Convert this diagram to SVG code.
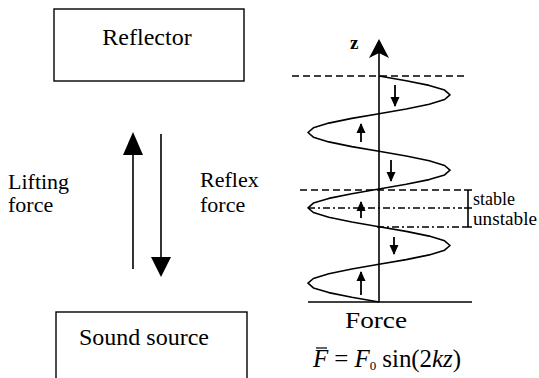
<svg xmlns="http://www.w3.org/2000/svg" width="539" height="378" viewBox="0 0 539 378">
<style>
.box{fill:#fff;stroke:#000;stroke-width:1.4}
.t{font-family:"Liberation Serif","Times New Roman",serif;fill:#000}
.ln{stroke:#000;stroke-width:1.6;fill:none}
.dash{stroke:#000;stroke-width:1.3;stroke-dasharray:7 4;fill:none}
.dd{stroke:#000;stroke-width:1.3;stroke-dasharray:7 3 2 3;fill:none}
.sa{stroke:#000;stroke-width:1.8;fill:none;marker-end:url(#sh)}
</style>
<defs>
<marker id="sh" viewBox="0 0 10 10" refX="9" refY="5" markerWidth="10" markerHeight="10" markerUnits="userSpaceOnUse" orient="auto">
<path d="M0,0.5 L10,5 L0,9.5 Z" fill="#000"/>
</marker>
</defs>
<rect width="539" height="378" fill="#fff"/>
<g id="reflector">
<rect class="box" x="54" y="9" width="190" height="72"/>
<text class="t" x="147" y="45" font-size="24" text-anchor="middle">Reflector</text>
</g>
<g id="sound-source">
<rect class="box" x="56" y="312" width="191" height="90"/>
<text class="t" x="144" y="345" font-size="24" text-anchor="middle">Sound source</text>
</g>
<g id="connectors">
<line class="ln" x1="133" y1="269" x2="133" y2="154"/>
<polygon points="123,155 143,155 133,132" fill="#000"/>
<line class="ln" x1="161" y1="134" x2="161" y2="258"/>
<polygon points="151,257 171,257 161,277" fill="#000"/>
</g>
<g id="labels">
<text class="t" x="8" y="189" font-size="22">Lifting</text>
<text class="t" x="8" y="212" font-size="22">force</text>
<text class="t" x="200" y="187" font-size="22">Reflex</text>
<text class="t" x="200" y="212" font-size="22">force</text>
</g>
<g id="force-plot">
<line class="dash" x1="292" y1="76" x2="468" y2="76"/>
<line class="dash" x1="300" y1="190" x2="462" y2="190"/>
<line class="dd" x1="308" y1="208" x2="462" y2="208"/>
<line class="dd" x1="377" y1="227" x2="465" y2="227"/>
<line class="ln" x1="308" y1="302" x2="472" y2="302" stroke-width="1.4"/>
<line class="ln" x1="379" y1="302" x2="379" y2="52" stroke-width="2"/>
<polygon points="379,39 389,58 379,53 369,58" fill="#000"/>
<text class="t" x="350" y="49" font-size="19" font-weight="bold">z</text>
<path class="ln" stroke-width="1.8" stroke-linejoin="round" d="M379,76 L406.2,80.7 L429.2,85.4 L444.6,90.1 L450,94.8 L444.6,99.5 L429.2,104.3 L406.2,109 L379,113.7 L351.8,118.4 L328.8,123.1 L313.4,127.8 L308,132.5 L313.4,137.2 L328.8,141.9 L351.8,146.6 L379,151.3 L406.2,156 L429.2,160.8 L444.6,165.5 L450,170.2 L444.6,174.9 L429.2,179.6 L406.2,184.3 L379,189 L351.8,193.7 L328.8,198.4 L313.4,203.1 L308,207.8 L313.4,212.5 L328.8,217.3 L351.8,222 L379,226.7 L406.2,231.4 L429.2,236.1 L444.6,240.8 L450,245.5 L444.6,250.2 L429.2,254.9 L406.2,259.6 L379,264.3 L351.8,269 L328.8,273.8 L313.4,278.5 L308,283.2 L313.4,287.9 L328.8,292.6 L351.8,297.3 L379,302"/>
<line class="sa" x1="395" y1="85" x2="395" y2="106"/>
<line class="sa" x1="391" y1="160" x2="391" y2="181"/>
<line class="sa" x1="394" y1="237" x2="394" y2="254"/>
<line class="sa" x1="361" y1="142" x2="361" y2="124"/>
<line class="sa" x1="361" y1="218" x2="361" y2="202"/>
<line class="sa" x1="361" y1="295" x2="361" y2="272"/>
<path class="ln" stroke-width="1.3" d="M468,190 V227 M464,190 H472 M464,208 H472 M464,227 H472"/>
<text class="t" x="473" y="205" font-size="18">stable</text>
<text class="t" x="473" y="225" font-size="18" textLength="64" lengthAdjust="spacingAndGlyphs">unstable</text>
<text class="t" x="376" y="328" font-size="23" text-anchor="middle" textLength="62" lengthAdjust="spacingAndGlyphs">Force</text>
<text class="t" x="313" y="367" font-size="25" textLength="148" lengthAdjust="spacing"><tspan font-style="italic">F</tspan> = <tspan font-style="italic">F</tspan><tspan font-size="13" dy="3">0</tspan><tspan dy="-3"> sin(2</tspan><tspan font-style="italic">kz</tspan>)</text>
<path d="M316,348 H327" stroke="#000" stroke-width="1.2"/>
</g>
</svg>
